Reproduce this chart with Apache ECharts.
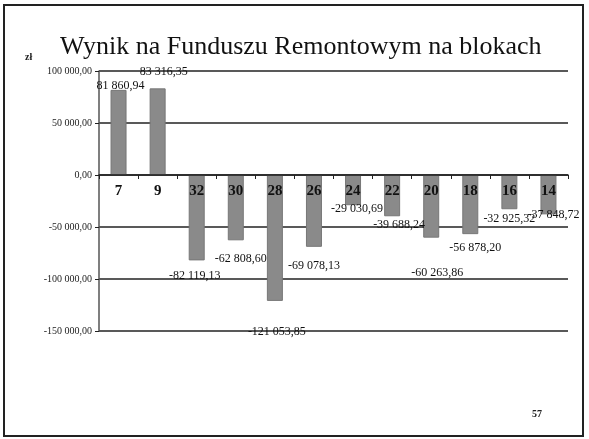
<!DOCTYPE html>
<html>
<head>
<meta charset="utf-8">
<script src="https://cdn.jsdelivr.net/npm/echarts@6/dist/echarts.min.js"></script>
<style>
  html, body { margin: 0; padding: 0; background: #fff; }
  #chart { width: 589px; height: 439px; }
</style>
</head>
<body>
<div id="chart"></div>
<script>
const blocks = ['7', '9', '32', '30', '28', '26', '24', '22', '20', '18', '16', '14']
const results = [81860.94, 83316.35, -82119.13, -62808.60, -121053.85, -69078.13,
  -29030.69, -39688.24, -60263.86, -56878.20, -32925.32, -37848.72]
const yTicks = [-150000, -100000, -50000, 0, 50000, 100000]

// label nudges (px) to mimic the scattered Excel labels
const labelShift = [[2, 2], [6, -11], [-2, 9], [5, 13], [2, 25], [0, 13],
  [4, -2], [7, 3], [6, 29], [5, 8], [0, 4], [5, -6]]

const serif = '"Liberation Serif", "DejaVu Serif", serif'

function plNumber(v) {
  const neg = v < 0
  const parts = Math.abs(v).toFixed(2).split('.')
  const int = parts[0].replace(/\B(?=(\d{3})+(?!\d))/g, ' ')
  return (neg ? '-' : '') + int + ',' + parts[1]
}

const chart = echarts.init(document.getElementById('chart'))

chart.setOption({
  animation: false,
  backgroundColor: '#fff',
  graphic: [
    {
      type: 'rect',
      shape: { x: 4, y: 5, width: 579, height: 431 },
      style: { fill: 'none', stroke: '#222', lineWidth: 2 },
      silent: true,
    },
    {
      type: 'text', left: 25, top: 52,
      style: { text: 'zł', font: 'bold 10px ' + serif, fill: '#222' },
    },
    {
      type: 'text', left: 532, top: 409,
      style: { text: '57', font: 'bold 10px ' + serif, fill: '#222' },
    },
  ],
  title: {
    text: 'Wynik na Funduszu Remontowym na blokach',
    left: 55,
    top: 29,
    textStyle: { fontFamily: serif, fontSize: 26, fontWeight: 'normal', color: '#111' },
  },
  grid: { left: 99, right: 21, top: 71, bottom: 108 },
  xAxis: {
    type: 'category',
    data: blocks,
    position: 'bottom',
    offset: -156,
    axisLine: { onZero: false, lineStyle: { color: '#222', width: 1.5 } },
    axisTick: { show: true, length: 4, lineStyle: { color: '#222' } },
    axisLabel: {
      margin: 9,
      fontFamily: serif,
      fontSize: 15,
      fontWeight: 'bold',
      color: '#111',
    },
    z: 3,
  },
  yAxis: {
    type: 'value',
    min: yTicks[0],
    max: yTicks[yTicks.length - 1],
    interval: 50000,
    axisLine: { show: true, lineStyle: { color: '#555', width: 1.5 } },
    axisTick: { show: true, length: 4, lineStyle: { color: '#222' } },
    splitLine: { lineStyle: { color: '#222', width: 1.5 } },
    axisLabel: {
      margin: 7,
      fontFamily: serif,
      fontSize: 10,
      color: '#222',
      formatter: (v) => plNumber(v),
    },
  },
  series: [
    {
      type: 'bar',
      data: results.map((v, i) => ({
        value: v,
        label: {
          position: v >= 0 ? 'top' : 'bottom',
          offset: labelShift[i],
        },
      })),
      barWidth: 16,
      itemStyle: { color: '#8a8a8a', borderColor: '#777', borderWidth: 1 },
      label: {
        show: true,
        distance: 0,
        fontFamily: serif,
        fontSize: 12,
        color: '#111',
        formatter: (p) => plNumber(p.value),
      },
      z: 2,
    },
  ],
})
</script>
</body>
</html>
